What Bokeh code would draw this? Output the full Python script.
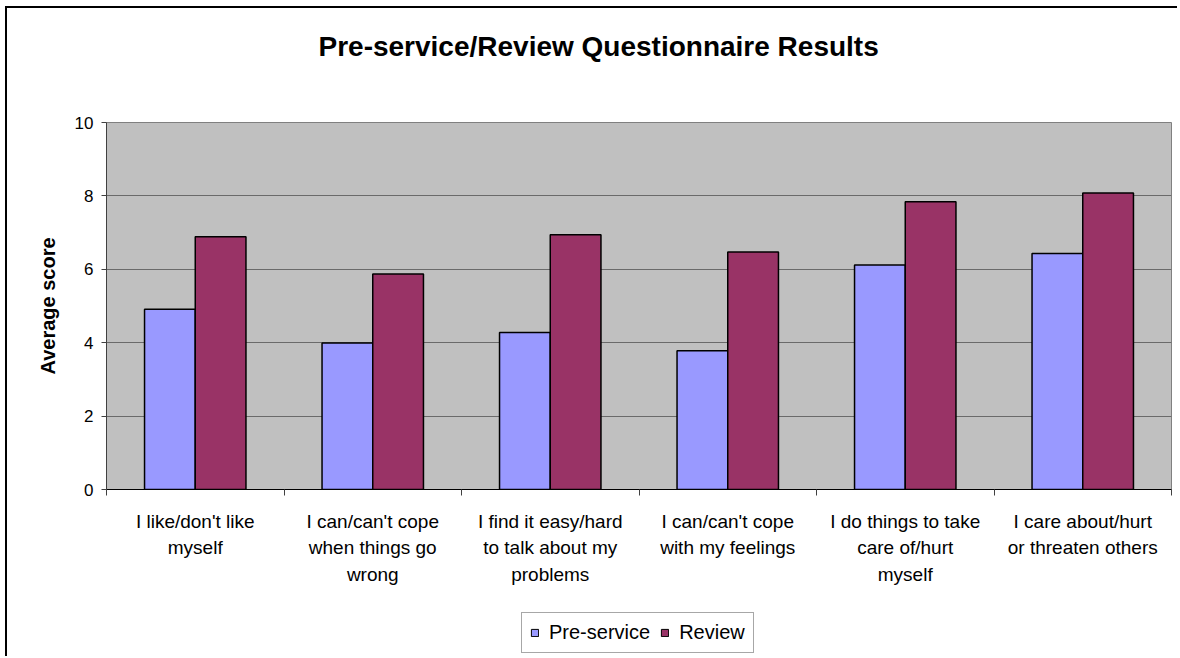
import numpy as np
from bokeh.plotting import figure
from bokeh.layouts import column
from bokeh.models import (ColumnDataSource, Range1d, FixedTicker, Legend,
                          LegendItem, Title)
from bokeh.embed import file_html
from bokeh.resources import INLINE

title_text = "Pre-service/Review Questionnaire Results"
y_label = "Average score"
series_names = ["Pre-service", "Review"]
categories = [
    "I like/don't like\nmyself",
    "I can/can't cope\nwhen things go\nwrong",
    "I find it easy/hard\nto talk about my\nproblems",
    "I can/can't cope\nwith my feelings",
    "I do things to take\ncare of/hurt\nmyself",
    "I care about/hurt\nor threaten others",
]
pre_service = [4.91, 3.99, 4.28, 3.78, 6.12, 6.43]
review = [6.89, 5.87, 6.94, 6.47, 7.84, 8.08]
y_ticks = [0, 2, 4, 6, 8, 10]

FONT = "Liberation Sans"
PRE_COLOR = "#9999FF"
REV_COLOR = "#993366"

n = len(categories)
centers = np.arange(n) + 0.5
bar_w = 1.0 / 3.5

src = ColumnDataSource(dict(
    x_pre=centers - bar_w / 2,
    x_rev=centers + bar_w / 2,
    pre=pre_service,
    rev=review,
))

p = figure(width=1170, height=601, output_backend="svg", toolbar_location=None,
           x_range=Range1d(0, n), y_range=Range1d(0, 10),
           min_border_left=99, min_border_right=6, min_border_top=114,
           min_border_bottom=120, title=None)

p.background_fill_color = "#C0C0C0"
p.border_fill_color = "white"
p.outline_line_color = "#808080"
p.outline_line_width = 1

p.vbar(x="x_pre", top="pre", width=bar_w, source=src,
       fill_color=PRE_COLOR, line_color="black", line_width=1.5)
p.vbar(x="x_rev", top="rev", width=bar_w, source=src,
       fill_color=REV_COLOR, line_color="black", line_width=1.5)

# grid
p.xgrid.grid_line_color = None
p.ygrid.grid_line_color = "#6a6a6a"
p.ygrid.grid_line_width = 1
p.ygrid.ticker = FixedTicker(ticks=y_ticks[:-1])

# x axis
xa = p.xaxis[0]
xa.ticker = FixedTicker(ticks=list(centers), minor_ticks=list(range(n + 1)))
xa.major_label_overrides = {float(c): lab for c, lab in zip(centers, categories)}
xa.major_tick_line_color = None
xa.major_tick_out = 6
xa.major_tick_in = 0
xa.minor_tick_out = 6
xa.minor_tick_in = 0
xa.minor_tick_line_color = "#404040"
xa.axis_line_color = "black"
xa.major_label_text_font = FONT
xa.major_label_text_font_size = "19px"
xa.major_label_text_color = "black"
xa.major_label_text_line_height = 1.28
xa.major_label_standoff = 15

# y axis
ya = p.yaxis[0]
ya.ticker = FixedTicker(ticks=y_ticks)
ya.minor_tick_line_color = None
ya.major_tick_out = 5
ya.major_tick_in = 0
ya.major_tick_line_color = "#404040"
ya.axis_line_color = "#404040"
ya.major_label_text_font = FONT
ya.major_label_text_font_size = "17px"
ya.major_label_text_color = "black"
ya.major_label_standoff = 8
ya.axis_label = y_label
ya.axis_label_text_font = FONT
ya.axis_label_text_font_size = "20px"
ya.axis_label_text_font_style = "bold"
ya.axis_label_text_color = "black"
ya.axis_label_standoff = 13

# spacer between frame and title (closest to frame), then the title
spacer = Title(text=" ", text_font_size="10px", standoff=42, text_color="white")
p.add_layout(spacer, "above")
title = Title(text=title_text, align="left", offset=212, vertical_align="middle",
              text_font=FONT, text_font_size="28px", text_font_style="bold",
              text_color="black", standoff=10)
p.add_layout(title, "above")

# legend strip below the chart (its bars lie outside its visible range)
lg = figure(width=1170, height=47, output_backend="svg", toolbar_location=None,
            x_axis_type=None, y_axis_type=None,
            x_range=Range1d(100, 101), y_range=Range1d(100, 101),
            min_border_left=0, min_border_right=0, min_border_top=0,
            min_border_bottom=0)
lg.outline_line_color = None
lg.background_fill_color = "white"
lg.xgrid.grid_line_color = None
lg.ygrid.grid_line_color = None
d_pre = lg.vbar(x="x_pre", top="pre", width=bar_w, source=src,
                fill_color=PRE_COLOR, line_color="black", line_width=1)
d_rev = lg.vbar(x="x_rev", top="rev", width=bar_w, source=src,
                fill_color=REV_COLOR, line_color="black", line_width=1)

legend = Legend(items=[LegendItem(label=series_names[0], renderers=[d_pre]),
                       LegendItem(label=series_names[1], renderers=[d_rev])],
                orientation="horizontal", location=(415, 3))
legend.label_text_font = FONT
legend.label_text_font_size = "20px"
legend.label_text_color = "black"
legend.glyph_width = 9
legend.glyph_height = 9
legend.label_standoff = 10
legend.spacing = 10
legend.padding = 8
legend.margin = 0
legend.border_line_color = "#505050"
legend.border_line_width = 1
legend.background_fill_color = "white"
legend.label_height = 21
lg.add_layout(legend, "center")

layout = column(p, lg, spacing=0)
layout.styles = {"border-top": "2px solid black", "border-left": "2px solid black",
                 "margin-left": "5px", "margin-top": "6px"}

open("out.html", "w").write(file_html(layout, INLINE))
